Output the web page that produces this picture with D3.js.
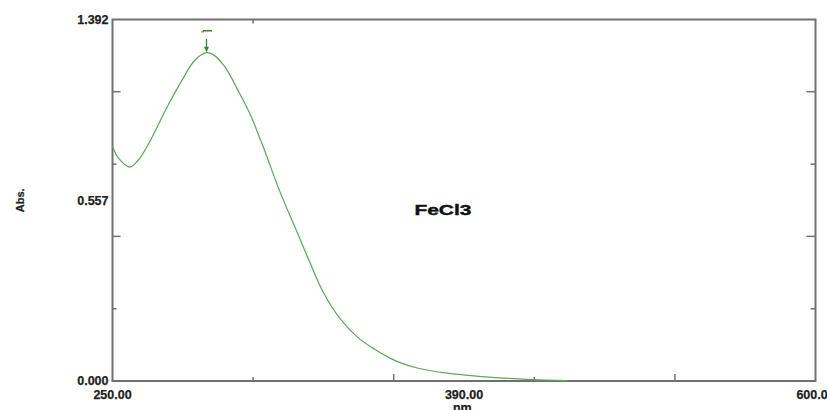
<!DOCTYPE html>
<html>
<head>
<meta charset="utf-8">
<script src="https://cdn.jsdelivr.net/npm/d3@7"></script>
<style>
  body { margin: 0; background: #fff; }
  svg { display: block; }
  text { font-family: "Liberation Sans", Arial, sans-serif; font-weight: bold; fill: #1e1e1e; stroke: #1e1e1e; stroke-width: 0.25px; }
</style>
</head>
<body>
<div id="chart"></div>
<script>

// wavelength (nm) and absorbance
var wavelength = [250, 253, 258.6, 263, 268.9, 277.2, 285.5, 291, 296.8, 301, 305.4, 308.5, 312.1, 318.7,
                  325.3, 333.1, 342.0, 348.2, 355.2, 363.5, 371.8, 380.1, 388.4, 393.4, 401.7, 416.6,
                  430, 443.2, 459.6, 476.4];
var absorbance = [0.904, 0.858, 0.824, 0.852, 0.927, 1.055, 1.170, 1.235, 1.264, 1.252, 1.215, 1.178, 1.125, 1.024,
                  0.896, 0.734, 0.572, 0.458, 0.338, 0.238, 0.170, 0.124, 0.087, 0.070, 0.050, 0.030,
                  0.020, 0.012, 0.0055, 0.001];

var xTicks = [320, 390, 460, 530];
var yTicks = [0.278, 0.557, 0.835, 1.114];
var xLabels = ["250.00", "390.00", "600.00"];
var xLabelAt = [250, 425, 600];
var yLabels = ["0.000", "0.557", "1.392"];
var yLabelAt = [0, 0.696, 1.392];

var peak = {nm: 296.8, abs: 1.264};

var margin = {top: 19.5, right: 11.5, bottom: 29, left: 112.5};
var W = 827, H = 410;
var width = W - margin.left - margin.right;
var height = H - margin.top - margin.bottom;

var svg = d3.select("#chart")
	.append("svg")
	.attr("width", W)
	.attr("height", H)
	.append("g")
	.attr("transform", "translate(" + margin.left + "," + margin.top + ")");

var x = d3.scaleLinear().domain([250, 600]).range([0, width]);
var y = d3.scaleLinear().domain([0, 1.392]).range([height, 0]);

var frameCol = "#707070";

/* frame */
svg.append("rect")
	.attr("x", 0).attr("y", 0)
	.attr("width", width).attr("height", height)
	.attr("fill", "none")
	.attr("stroke", frameCol)
	.attr("stroke-width", 2);

/* ticks - long and short alternate */
xTicks.forEach(function(t, i){
	var len = (i % 2 == 0) ? 4 : 7;
	svg.append("line")
		.attr("x1", x(t)).attr("x2", x(t))
		.attr("y1", height).attr("y2", height - len)
		.attr("stroke", frameCol).attr("stroke-width", 1.5);
	if (i == 0) {
		svg.append("line")
			.attr("x1", x(t)).attr("x2", x(t))
			.attr("y1", 0).attr("y2", 4)
			.attr("stroke", frameCol).attr("stroke-width", 1.5);
	}
});

yTicks.forEach(function(t, i){
	var len = (i % 2 == 0) ? 4 : 8;
	svg.append("line")
		.attr("x1", 0).attr("x2", len)
		.attr("y1", y(t)).attr("y2", y(t))
		.attr("stroke", frameCol).attr("stroke-width", 1.5);
	svg.append("line")
		.attr("x1", width).attr("x2", width - len - 1)
		.attr("y1", y(t)).attr("y2", y(t))
		.attr("stroke", frameCol).attr("stroke-width", 1.5);
});

/* labels */
yLabels.forEach(function(l, i){
	svg.append("text")
		.attr("x", -4)
		.attr("y", y(yLabelAt[i]))
		.attr("dy", "0.35em")
		.attr("text-anchor", "end")
		.style("font-size", "12.5px")
		.text(l);
});

xLabels.forEach(function(l, i){
	svg.append("text")
		.attr("x", x(xLabelAt[i]))
		.attr("y", height + 17.5)
		.attr("text-anchor", "middle")
		.style("font-size", "12.5px")
		.text(l);
});

svg.append("text")
	.attr("x", x(425))
	.attr("y", height + 31)
	.attr("text-anchor", "middle")
	.style("font-size", "12.5px")
	.text("nm.");

svg.append("text")
	.attr("transform", "translate(" + (20 - margin.left) + "," + y(0.696) + ") rotate(-90)")
	.attr("dy", "0.35em")
	.attr("text-anchor", "middle")
	.style("font-size", "11px")
	.text("Abs.");

svg.append("text")
	.attr("x", x(414.5))
	.attr("y", y(0.64))
	.attr("text-anchor", "middle")
	.attr("textLength", 57)
	.attr("lengthAdjust", "spacingAndGlyphs")
	.style("font-size", "15px")
	.style("font-weight", "900")
	.style("fill", "#111")
	.style("stroke", "#111")
	.style("stroke-width", "0.4px")
	.text("FeCl3");

/* spectrum */
var pts = wavelength.map(function(d, i){ return {nm: d, abs: absorbance[i]}; });

var line = d3.line()
	.x(function(d){ return x(d.nm); })
	.y(function(d){ return y(d.abs); })
	.curve(d3.curveCatmullRom.alpha(0.5));

svg.append("path")
	.datum(pts)
	.attr("d", line)
	.attr("fill", "none")
	.attr("stroke", "#5ca95c")
	.attr("stroke-width", 1.25);

/* peak pick marker */
var px = x(peak.nm), py = y(peak.abs);
var mk = "#2f8a2f";

svg.append("line")
	.attr("x1", px).attr("x2", px)
	.attr("y1", py - 14).attr("y2", py - 5)
	.attr("stroke", mk).attr("stroke-width", 1.3);

svg.append("path")
	.attr("d", "M" + (px - 2.5) + "," + (py - 6) + "L" + (px + 2.5) + "," + (py - 6) + "L" + px + "," + (py - 0.5) + "Z")
	.attr("fill", mk);

svg.append("path")
	.attr("d", "M" + (px - 4) + "," + (py - 20.5) + "L" + (px - 3) + "," + (py - 22) + "L" + (px + 5.5) + "," + (py - 22))
	.attr("fill", "none")
	.attr("stroke", mk).attr("stroke-width", 1.5);

svg.append("circle")
	.attr("cx", px - 4.5).attr("cy", py - 21)
	.attr("r", 0.9)
	.attr("fill", "#c8b43a");

</script>
</body>
</html>
